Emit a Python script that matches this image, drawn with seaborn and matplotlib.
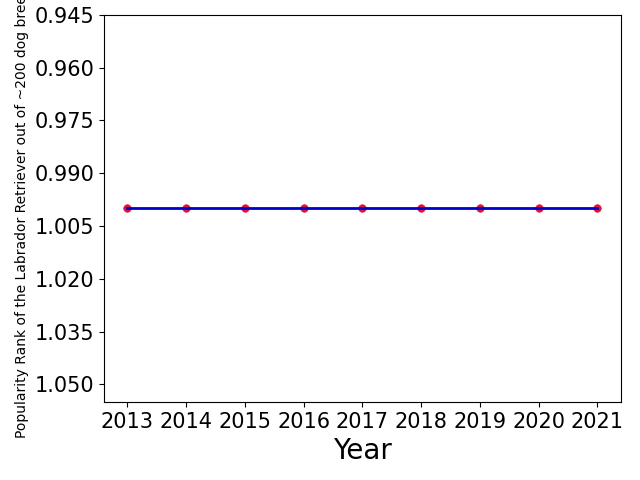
import pandas as pd
import matplotlib
matplotlib.use("Agg")
import matplotlib.pyplot as plt
from matplotlib.ticker import MultipleLocator, FormatStrFormatter
import seaborn as sns

# Labrador Retriever popularity rank per year
years = [2013, 2014, 2015, 2016, 2017, 2018, 2019, 2020, 2021]
ranks = [1, 1, 1, 1, 1, 1, 1, 1, 1]

df = pd.DataFrame({"Year": years, "Rank": ranks})

fig, ax = plt.subplots(figsize=(6.4, 4.8), dpi=100)
sns.scatterplot(data=df, x="Year", y="Rank", color="crimson", s=30, edgecolor="crimson", ax=ax, zorder=2)
sns.lineplot(data=df, x="Year", y="Rank", color="mediumblue", linewidth=2, ax=ax, zorder=3)

ax.invert_yaxis()
ax.yaxis.set_major_locator(MultipleLocator(0.015))
ax.yaxis.set_major_formatter(FormatStrFormatter("%.3f"))
ax.set_xticks(years)
ax.tick_params(axis="both", labelsize=15)
ax.set_xlabel("Year", fontsize=20)
ax.set_ylabel("Popularity Rank of the Labrador Retriever out of ~200 dog breeds", fontsize=10)

plt.subplots_adjust(left=0.1625, right=0.970, top=0.969, bottom=0.1625)
plt.savefig("out.png", dpi=100)
plt.close()
